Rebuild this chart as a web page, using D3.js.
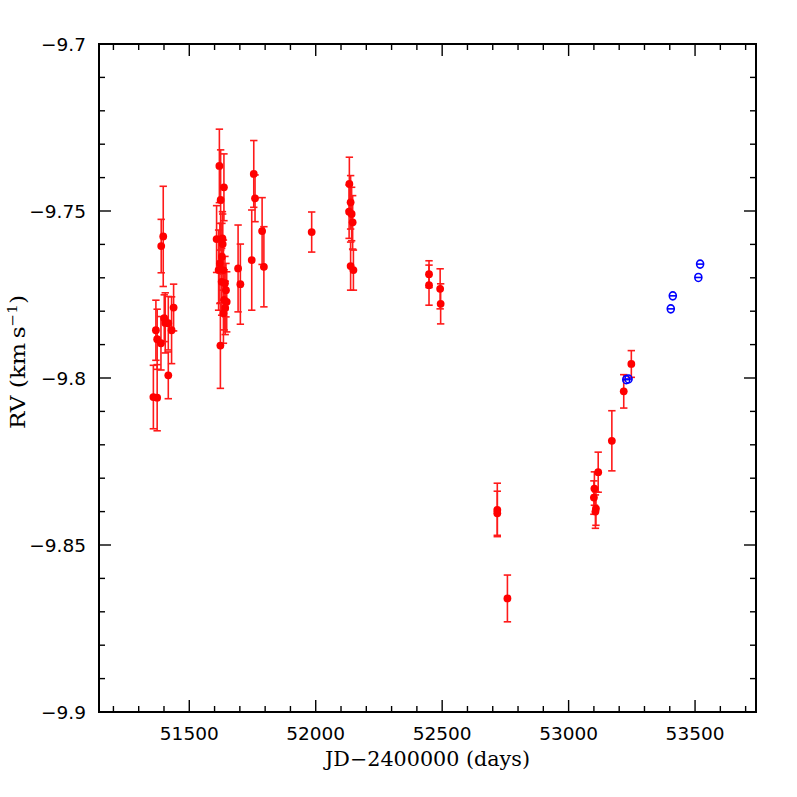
<!DOCTYPE html>
<html><head><meta charset="utf-8">
<script src="https://cdn.jsdelivr.net/npm/d3@7"></script>
<style>body{margin:0;background:#fff}</style>
</head><body>
<svg id="c" width="797" height="797"></svg>
<script>
// Red series (ground-based RVs): JD-2400000, RV, error
const redJD = [51358,51373,51368,51373,51388,51389,51397,51401,51405,51417,51417,51430,51438,
  51619,51637,51624,51608,51631,51632,51616,51621,51629,51635,51628,51641,51645,51638,51648,51635,51623,51642,
  51693,51702,51747,51755,51760,51788,51795,51984,
  52133,52138,52132,52142,52146,52138,52149,
  52448,52448,52492,52494,
  52718,52718,52758,
  53100,53102,53108,53106,53117,53171,53218,53248];
const redRV = [-9.8057,-9.8059,-9.7857,-9.7884,-9.7896,-9.7605,-9.7576,-9.7821,-9.7835,-9.7836,-9.7992,-9.7857,-9.7789,
  -9.7365,-9.7429,-9.7467,-9.7584,-9.7582,-9.7599,-9.7677,-9.7657,-9.7637,-9.7677,-9.7712,-9.7716,-9.7737,-9.7766,-9.7772,-9.7806,-9.7903,-9.7790,
  -9.7672,-9.7719,-9.7647,-9.7389,-9.7462,-9.7560,-9.7667,-9.7563,
  -9.7419,-9.7474,-9.7502,-9.7509,-9.7534,-9.7665,-9.7677,
  -9.7689,-9.7722,-9.7733,-9.7778,
  -9.8395,-9.8405,-9.8660,
  -9.8358,-9.8331,-9.8391,-9.8400,-9.8282,-9.8188,-9.8040,-9.7958];
const redErr = [0.0095,0.0099,0.009,0.009,0.008,0.008,0.015,0.007,0.009,0.008,0.007,0.010,0.007,
  0.011,0.010,0.015,0.010,0.008,0.009,0.012,0.012,0.010,0.009,0.010,0.008,0.008,0.009,0.009,0.009,0.0128,0.008,
  0.013,0.012,0.015,0.010,0.007,0.010,0.012,0.006,
  0.008,0.008,0.008,0.008,0.008,0.0072,0.006,
  0.004,0.006,0.006,0.006,
  0.008,0.0066,0.007,
  0.005,0.005,0.005,0.005,0.006,0.009,0.005,0.004];
// Blue series
const blueJD = [53228,53237,53404,53412,53513,53520];
const blueRV = [-9.8005,-9.8003,-9.7793,-9.7754,-9.7699,-9.7659];

const xMajor = [51500,52000,52500,53000,53500];
const yMajor = [-9.9,-9.85,-9.8,-9.75,-9.7];
const yLabels = ["\u22129.9","\u22129.85","\u22129.8","\u22129.75","\u22129.7"];

const svg = d3.select("#c");
const L=99, R=756, T=44, B=712;
const x = d3.scaleLinear().domain([51143,53741]).range([L,R]);
const y = d3.scaleLinear().domain([-9.9,-9.7]).range([B,T]);

const xMinor = d3.range(51200,53800,100).filter(v=>v%500!==0);
const yMinor = d3.range(-9.9,-9.7,0.01).map(v=>+v.toFixed(2)).filter(v=>!yMajor.some(m=>Math.abs(m-v)<1e-6));

const ax = svg.append("g").attr("stroke","#000").attr("stroke-width",1.4);
const maj=12, mn=6;
xMajor.forEach(v=>{ax.append("line").attr("x1",x(v)).attr("x2",x(v)).attr("y1",B).attr("y2",B-maj);
  ax.append("line").attr("x1",x(v)).attr("x2",x(v)).attr("y1",T).attr("y2",T+maj);});
xMinor.forEach(v=>{ax.append("line").attr("x1",x(v)).attr("x2",x(v)).attr("y1",B).attr("y2",B-mn);
  ax.append("line").attr("x1",x(v)).attr("x2",x(v)).attr("y1",T).attr("y2",T+mn);});
yMajor.forEach(v=>{ax.append("line").attr("y1",y(v)).attr("y2",y(v)).attr("x1",L).attr("x2",L+maj);
  ax.append("line").attr("y1",y(v)).attr("y2",y(v)).attr("x1",R).attr("x2",R-maj);});
yMinor.forEach(v=>{ax.append("line").attr("y1",y(v)).attr("y2",y(v)).attr("x1",L).attr("x2",L+mn);
  ax.append("line").attr("y1",y(v)).attr("y2",y(v)).attr("x1",R).attr("x2",R-mn);});
svg.append("rect").attr("x",L).attr("y",T).attr("width",R-L).attr("height",B-T)
  .attr("fill","none").attr("stroke","#000").attr("stroke-width",2);

// tick labels
svg.append("g").selectAll("text").data(xMajor).join("text")
  .attr("x",d=>x(d)).attr("y",740).attr("text-anchor","middle")
  .attr("font-family","DejaVu Sans, sans-serif").attr("font-size",18.5).text(d=>d);
svg.append("g").selectAll("text").data(yMajor).join("text")
  .attr("x",86).attr("y",d=>y(d)+6.5).attr("text-anchor","end")
  .attr("font-family","DejaVu Sans, sans-serif").attr("font-size",18.5).text((d,i)=>yLabels[i]);

// axis titles
svg.append("text").attr("x",(L+R)/2).attr("y",766).attr("text-anchor","middle")
  .attr("font-family","DejaVu Serif, serif").attr("font-size",20)
  .attr("textLength",205).attr("lengthAdjust","spacingAndGlyphs")
  .text("JD\u22122400000 (days)");
const yt = svg.append("text").attr("transform","translate(25,362) rotate(-90)")
  .attr("text-anchor","middle").attr("font-family","DejaVu Serif, serif").attr("font-size",20)
  .attr("textLength",134).attr("lengthAdjust","spacingAndGlyphs");
yt.append("tspan").text("RV (km\u2009s");
yt.append("tspan").attr("font-size",13).attr("dy",-8).text("\u22121");
yt.append("tspan").attr("dy",8).text(")");

// red points with error bars
const red = redJD.map((d,i)=>({x:d,y:redRV[i],e:redErr[i]}));
const gr = svg.append("g").attr("stroke","#ff1a1a").attr("stroke-width",1.6);
red.forEach(d=>{
  const cx=x(d.x), y1=y(d.y+d.e), y2=y(d.y-d.e);
  gr.append("line").attr("x1",cx).attr("x2",cx).attr("y1",y1).attr("y2",y2);
  gr.append("line").attr("x1",cx-3.7).attr("x2",cx+3.7).attr("y1",y1).attr("y2",y1);
  gr.append("line").attr("x1",cx-3.7).attr("x2",cx+3.7).attr("y1",y2).attr("y2",y2);
});
svg.append("g").selectAll("circle").data(red).join("circle")
  .attr("cx",d=>x(d.x)).attr("cy",d=>y(d.y)).attr("r",3.9).attr("fill","#ff0000");

// blue points
const blue = blueJD.map((d,i)=>({x:d,y:blueRV[i]}));
const gb = svg.append("g").attr("stroke","#0000ff").attr("stroke-width",1.6).attr("fill","none");
blue.forEach(d=>{
  const cx=x(d.x), cy=y(d.y);
  gb.append("ellipse").attr("cx",cx).attr("cy",cy).attr("rx",3.5).attr("ry",4);
  gb.append("line").attr("x1",cx-3.5).attr("x2",cx+3.5).attr("y1",cy).attr("y2",cy);
});
</script>
</body></html>
